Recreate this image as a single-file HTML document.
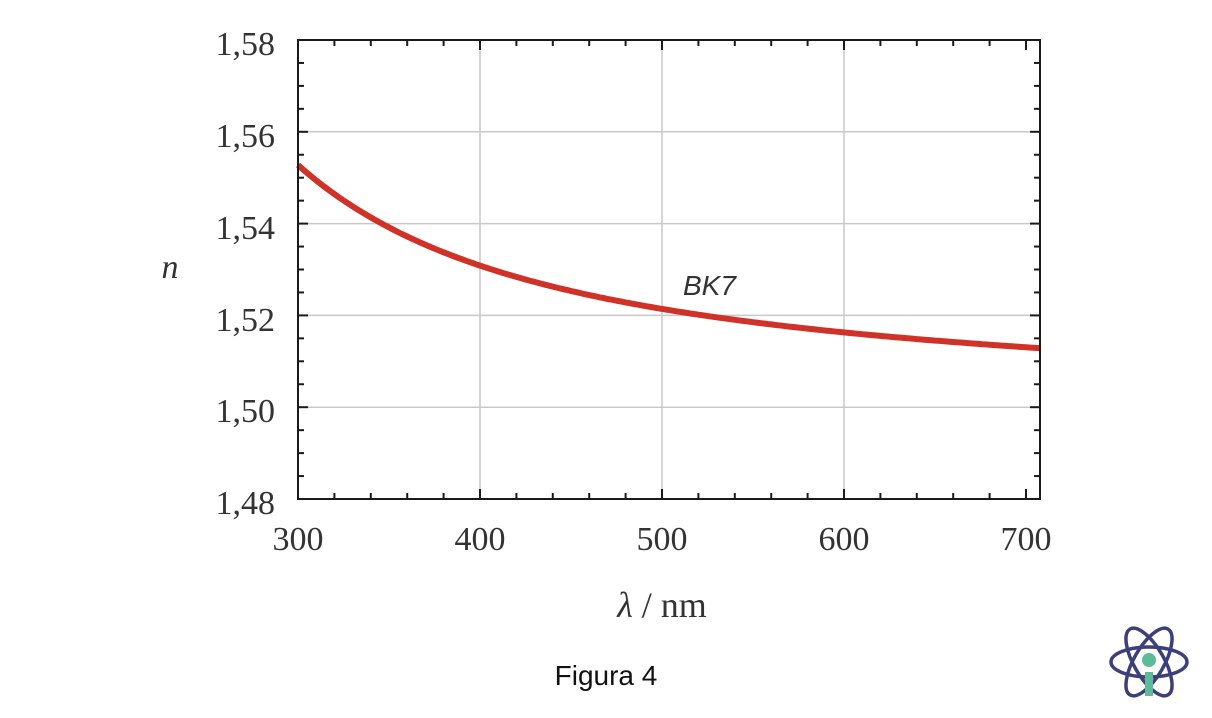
<!DOCTYPE html>
<html><head><meta charset="utf-8"><style>
html,body{margin:0;padding:0;background:#fff;}
svg{display:block;}
</style></head><body>
<svg id="s" width="1212" height="718" xmlns="http://www.w3.org/2000/svg">
<g id="grid" stroke="#c8c8c8" stroke-width="1.5"></g>
<path id="curve" fill="none" stroke="#d03228" stroke-width="6" stroke-linecap="butt"/>
<rect x="298" y="40" width="742" height="459" fill="none" stroke="#1a1a1a" stroke-width="2"/>
<g id="ticks" stroke="#1a1a1a" stroke-width="2"></g>
<g font-family="Liberation Serif, serif" font-size="34" fill="#333">
<text x="275" y="55" text-anchor="end">1,58</text>
<text x="275" y="147" text-anchor="end">1,56</text>
<text x="275" y="239" text-anchor="end">1,54</text>
<text x="275" y="331" text-anchor="end">1,52</text>
<text x="275" y="422" text-anchor="end">1,50</text>
<text x="275" y="514" text-anchor="end">1,48</text>
<text x="298" y="550" text-anchor="middle">300</text>
<text x="480" y="550" text-anchor="middle">400</text>
<text x="662" y="550" text-anchor="middle">500</text>
<text x="844" y="550" text-anchor="middle">600</text>
<text x="1026" y="550" text-anchor="middle">700</text>
<text x="170" y="278" font-style="italic" text-anchor="middle">n</text>
<text x="662" y="617" font-size="36" text-anchor="middle"><tspan font-style="italic">λ</tspan> / nm</text>
</g>
<text x="683" y="295" font-family="Liberation Sans, sans-serif" font-style="italic" font-size="28" fill="#333">BK7</text>
<text x="606" y="685" font-family="Liberation Sans, sans-serif" font-size="28" fill="#111" text-anchor="middle">Figura 4</text>
<g fill="none" stroke="#3d3f7a" stroke-width="3.5">
<ellipse cx="1149" cy="662" rx="38" ry="15"/>
<ellipse cx="1149" cy="662" rx="38" ry="15" transform="rotate(60 1149 662)"/>
<ellipse cx="1149" cy="662" rx="38" ry="15" transform="rotate(-60 1149 662)"/>
</g>
<circle cx="1149" cy="660" r="7" fill="#5dbb9a"/>
<rect x="1145" y="672" width="8" height="24" fill="#5dbb9a"/>
</svg>
<script>
var ns="http://www.w3.org/2000/svg";
function X(l){return 298+(l-300)*1.82;}
function Y(n){return 40+(1.58-n)*4590;}
function line(g,x1,y1,x2,y2){var e=document.createElementNS(ns,"line");e.setAttribute("x1",x1);e.setAttribute("y1",y1);e.setAttribute("x2",x2);e.setAttribute("y2",y2);document.getElementById(g).appendChild(e);}
[400,500,600].forEach(function(l){line("grid",X(l),40,X(l),499);});
[1.50,1.52,1.54,1.56].forEach(function(n){line("grid",298,Y(n),1040,Y(n));});
for(var l=300;l<=700;l+=20){var maj=(l%100==0);var L=maj?10:6;line("ticks",X(l),40,X(l),40+L);line("ticks",X(l),499,X(l),499-L);}
for(var i=0;i<=20;i++){var n=1.48+i*0.005;var maj=(i%4==0);var L=maj?10:6;var y=Y(n);line("ticks",298,y,298+L,y);line("ticks",1040,y,1040-L,y);}
function bk7(nm){var x=nm/1000,x2=x*x;var n2=1+1.03961212*x2/(x2-0.00600069867)+0.231792344*x2/(x2-0.0200179144)+1.01046945*x2/(x2-103.560653);return Math.sqrt(n2);}
var d="";for(var l=300;l<=707.7;l+=2){d+=(d?"L":"M")+X(l).toFixed(1)+","+Y(bk7(l)).toFixed(1);}
d+="L1040,"+Y(bk7(707.7)).toFixed(1);
document.getElementById("curve").setAttribute("d",d);
</script>
</body></html>
